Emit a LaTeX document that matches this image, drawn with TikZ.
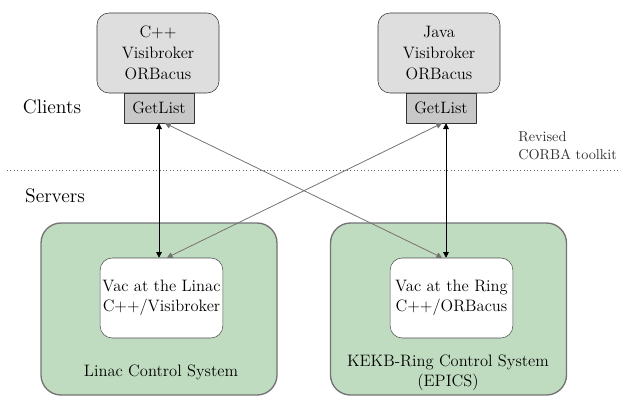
\documentclass[tikz,border=0pt]{standalone}
\usepackage{fontspec}
\usetikzlibrary{arrows.meta}
\definecolor{sysgreen}{RGB}{192,220,192}
\definecolor{boxgray}{RGB}{222,222,222}
\begin{document}
\begin{tikzpicture}[x=0.75pt, y=-0.75pt, line join=round, >={Triangle[length=4.3pt,width=4.3pt]},
 font=\rmfamily\fontsize{12.4}{15}\selectfont,
 client/.style={draw=black!80, fill=boxgray, rounded corners=9pt, minimum width=91.5pt, minimum height=60pt, align=center, inner sep=0pt},
 getbox/.style={draw=black!80, fill=boxgray!90!black, minimum width=52.5pt, minimum height=22.5pt, inner sep=0pt},
 system/.style={draw=black!55, line width=1pt, fill=sysgreen, rounded corners=15pt, minimum width=177pt, minimum height=129pt},
 server/.style={draw=black!70, fill=white, rounded corners=9pt, minimum width=92pt, minimum height=60pt, align=center, inner sep=0pt},
 link/.style={<->, line width=0.6pt}]
 \useasboundingbox (0,0) rectangle (621,397);
 % servers
 \node[system] (sysL) at (159,309) {};
 \node[system] (sysR) at (448.5,309) {};
 \node[server] (vacL) at (161.5,298) {Vac at the Linac\\C++/Visibroker};
 \node[server] (vacR) at (451.5,298) {Vac at the Ring\\C++/ORBacus};
 \node (linac) at (161,372) {Linac Control System};
 \node[align=center] (kekb) at (448,372.5) {KEKB-Ring Control System\\(EPICS)};
 % clients
 \node[client, font=\rmfamily\fontsize{12.4}{16}\selectfont] (cpp) at (158,53) {C++\\Visibroker\\ORBacus};
 \node[client, font=\rmfamily\fontsize{12.4}{16}\selectfont] (java) at (439,53) {Java\\Visibroker\\ORBacus};
 \node[getbox] (getL) at (159,108) {GetList};
 \node[getbox] (getR) at (441,108) {GetList};
 \node[font=\rmfamily\fontsize{14.7}{18}\selectfont] (clients) at (52,107) {Clients};
 \node[font=\rmfamily\fontsize{14.7}{18}\selectfont] (servers) at (55,196) {Servers};
 \node[anchor=west, align=left, inner sep=0pt, font=\rmfamily\fontsize{10.7}{13.5}\selectfont, text=black!80] (toolkit) at (518,146) {Revised\\CORBA toolkit};
 \coordinate (sepL) at (7,170);
 \coordinate (sepR) at (621,170);
 \draw[black!60, dotted, line width=0.6pt] (sepL) -- (sepR);
 % connections
 \draw[link, black!55] ([xshift=4.5pt]getL.south) -- ([xshift=-7pt]vacR.north);
 \draw[link, black!55] ([xshift=0.75pt]getR.south) -- ([xshift=4pt]vacL.north);
 \draw[link] (getL.south) -- (getL.south |- vacL.north);
 \draw[link] ([xshift=3.75pt]getR.south) -- ([xshift=3.75pt]getR.south |- vacR.north);
\end{tikzpicture}
\end{document}
